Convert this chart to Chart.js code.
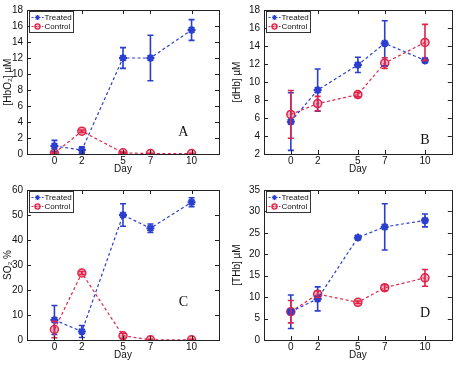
<!DOCTYPE html>
<html>
<head>
<meta charset="utf-8">
<script src="https://cdn.jsdelivr.net/npm/chart.js@4/dist/chart.umd.min.js"></script>
<style>
    body { margin: 0; background: #ffffff; }
    #wrap { position: relative; width: 458px; height: 365px; background: #ffffff; }
    canvas { position: absolute; }
</style>
</head>
<body>
<div id="wrap">
    <canvas id="chartA" width="229" height="180" style="left:0px;top:0px;"></canvas>
    <canvas id="chartB" width="229" height="180" style="left:229px;top:0px;"></canvas>
    <canvas id="chartC" width="229" height="185" style="left:0px;top:180px;"></canvas>
    <canvas id="chartD" width="229" height="185" style="left:229px;top:180px;"></canvas>
</div>
<script>
// days on the x axis
const days = [0, 2, 5, 7, 10];
const dayTicks = [0, 2, 5, 7, 10];

// panel A : [HbO2]
const hbo2Treated = [1.0, 0.5, 12.0, 12.0, 15.5];
const hbo2TreatedErr = [0.7, 0.4, 1.3, 2.85, 1.3];
const hbo2Control = [0.1, 2.85, 0.15, 0.05, 0.05];
const hbo2ControlErr = [0.1, 0.15, 0.1, 0.05, 0.05];

// panel B : [dHb]
const dhbTreated = [5.6, 9.1, 11.9, 14.3, 12.4];
const dhbTreatedErr = [3.2, 2.35, 0.85, 2.5, 0.2];
const dhbControl = [6.4, 7.6, 8.6, 12.1, 14.4];
const dhbControlErr = [2.65, 0.8, 0.25, 0.6, 2.0];

// panel C : SO2
const so2Treated = [8.0, 3.4, 50.0, 44.7, 55.1];
const so2TreatedErr = [5.8, 2.4, 4.5, 1.7, 1.8];
const so2Control = [4.2, 26.8, 1.7, 0.1, 0.1];
const so2ControlErr = [3.3, 0.6, 1.0, 0.2, 0.2];

// panel D : [THb]
const thbTreated = [6.6, 9.6, 23.9, 26.4, 27.9];
const thbTreatedErr = [3.9, 2.8, 0.4, 5.4, 1.5];
const thbControl = [6.6, 10.7, 8.8, 12.2, 14.5];
const thbControlErr = [2.6, 0.8, 0.3, 0.7, 1.95];

const blue = 'rgb(43, 63, 207)';
const red = 'rgb(224, 36, 74)';
const fontFamily = '"Liberation Sans", Arial, sans-serif';

// error bars, drawn through the scales
const errorBarPlugin =
{
    id: 'errorBars',
    afterDatasetsDraw(chart)
    {
        const ctx = chart.ctx;
        const yScale = chart.scales.y;
        chart.data.datasets.forEach((dataset, i) =>
        {
            const meta = chart.getDatasetMeta(i);
            ctx.save();
            ctx.strokeStyle = dataset.borderColor;
            ctx.lineWidth = 1.6;
            meta.data.forEach((point, j) =>
            {
                const value = dataset.data[j].y;
                const err = dataset.errors[j];
                const top = yScale.getPixelForValue(value + err);
                const bottom = yScale.getPixelForValue(Math.max(value - err, yScale.min));
                ctx.beginPath();
                ctx.moveTo(point.x, top);
                ctx.lineTo(point.x, bottom);
                ctx.moveTo(point.x - 3, top);
                ctx.lineTo(point.x + 3, top);
                if(value - err >= yScale.min)
                {
                    ctx.moveTo(point.x - 3, bottom);
                    ctx.lineTo(point.x + 3, bottom);
                }
                ctx.stroke();
            });
            ctx.restore();
        });
    }
};

// box round the plot with inward ticks on every side, panel letter and legend
const framePlugin =
{
    id: 'frame',
    afterDraw(chart, args, opts)
    {
        const ctx = chart.ctx;
        const area = chart.chartArea;
        const xScale = chart.scales.x;
        const yScale = chart.scales.y;
        ctx.save();
        ctx.strokeStyle = '#222';
        ctx.lineWidth = 1;
        ctx.strokeRect(Math.round(area.left) + 0.5, Math.round(area.top) + 0.5,
            Math.round(area.right - area.left), Math.round(area.bottom - area.top));
        ctx.beginPath();
        xScale.ticks.forEach((tick) =>
        {
            const px = Math.round(xScale.getPixelForValue(tick.value)) + 0.5;
            ctx.moveTo(px, area.bottom);
            ctx.lineTo(px, area.bottom - 4);
            ctx.moveTo(px, area.top);
            ctx.lineTo(px, area.top + 4);
        });
        yScale.ticks.forEach((tick) =>
        {
            const py = Math.round(yScale.getPixelForValue(tick.value)) + 0.5;
            ctx.moveTo(area.left, py);
            ctx.lineTo(area.left + 4, py);
            ctx.moveTo(area.right, py);
            ctx.lineTo(area.right - 4, py);
        });
        ctx.stroke();

        // panel letter
        ctx.fillStyle = '#111';
        ctx.font = '14px "Liberation Serif", "Times New Roman", serif';
        ctx.textAlign = 'center';
        ctx.textBaseline = 'middle';
        ctx.fillText(opts.letter, xScale.getPixelForValue(opts.letterX), yScale.getPixelForValue(opts.letterY));

        // legend box
        const boxLeft = Math.round(area.left) + 2.5;
        const boxTop = Math.round(area.top) + 1.5;
        ctx.fillStyle = '#ffffff';
        ctx.fillRect(boxLeft, boxTop, 44, 21);
        ctx.strokeStyle = '#333';
        ctx.strokeRect(boxLeft, boxTop, 44, 21);
        ctx.font = '8px ' + fontFamily;
        ctx.textAlign = 'left';
        chart.data.datasets.forEach((dataset, i) =>
        {
            const rowY = boxTop + 6 + i * 9;
            ctx.save();
            ctx.strokeStyle = dataset.borderColor;
            ctx.lineWidth = 1.2;
            ctx.setLineDash([2, 1.5]);
            ctx.beginPath();
            ctx.moveTo(boxLeft + 2, rowY);
            ctx.lineTo(boxLeft + 14, rowY);
            ctx.stroke();
            ctx.setLineDash([]);
            ctx.fillStyle = dataset.backgroundColor;
            ctx.lineWidth = 1.2;
            Chart.helpers.drawPoint(ctx, {pointStyle: dataset.pointStyle, rotation: 0, radius: 2.6, borderWidth: 1.2}, boxLeft + 8, rowY);
            ctx.restore();
            ctx.fillStyle = '#111';
            ctx.fillText(dataset.label, boxLeft + 15, rowY + 0.5);
        });
        ctx.restore();
    }
};

function toPoints(values)
{
    return values.map((v, i) => ({x: days[i], y: v}));
}

function makePanel(canvasId, panel)
{
    const context = document.getElementById(canvasId);
    const configObject =
    {
        type: 'line',
        data:
        {
            datasets:
            [
                {
                    label: 'Treated',
                    data: toPoints(panel.treated),
                    errors: panel.treatedErr,
                    borderColor: blue,
                    backgroundColor: blue,
                    borderWidth: 1.2,
                    borderDash: [3, 2.5],
                    pointStyle: 'star',
                    pointRadius: 4,
                    pointBorderWidth: 2.2,
                    pointBorderColor: blue,
                    pointBackgroundColor: blue,
                    tension: 0,
                },
                {
                    label: 'Control',
                    data: toPoints(panel.control),
                    errors: panel.controlErr,
                    borderColor: red,
                    backgroundColor: 'rgba(224, 36, 74, 0.35)',
                    borderWidth: 1.2,
                    borderDash: [3, 2.5],
                    pointStyle: 'circle',
                    pointRadius: 4,
                    pointBorderWidth: 1.5,
                    pointBorderColor: red,
                    pointBackgroundColor: 'rgba(224, 36, 74, 0.35)',
                    tension: 0,
                }
            ],
        },
        options:
        {
            responsive: false,
            animation: false,
            devicePixelRatio: 1,
            layout:
            {
                padding: {left: 0, top: panel.padTop, right: panel.padRight, bottom: 0},
            },
            plugins:
            {
                legend: {display: false},
                tooltip: {enabled: false},
                frame: {letter: panel.letter, letterX: panel.letterX, letterY: panel.letterY},
            },
            scales:
            {
                x:
                {
                    type: 'linear',
                    min: -2,
                    max: 12,
                    afterBuildTicks: (scale) =>
                    {
                        scale.ticks = dayTicks.map((d) => ({value: d}));
                    },
                    afterFit: (scale) =>
                    {
                        scale.height = panel.xHeight;
                    },
                    grid: {display: false, drawTicks: false},
                    border: {display: false},
                    ticks:
                    {
                        padding: 1,
                        color: '#111',
                        font: {family: fontFamily, size: 10},
                        maxRotation: 0,
                    },
                    title:
                    {
                        display: true,
                        text: 'Day',
                        color: '#111',
                        font: {family: fontFamily, size: 10},
                        padding: {top: 0, bottom: panel.titlePad},
                    },
                },
                y:
                {
                    min: panel.yMin,
                    max: panel.yMax,
                    afterFit: (scale) =>
                    {
                        scale.width = panel.yWidth;
                    },
                    grid: {display: false, drawTicks: false},
                    border: {display: false},
                    ticks:
                    {
                        stepSize: panel.yStep,
                        padding: 4,
                        color: '#111',
                        font: {family: fontFamily, size: 10},
                    },
                    title:
                    {
                        display: true,
                        text: panel.yTitle,
                        color: '#111',
                        font: {family: fontFamily, size: 10},
                        padding: {top: 2, bottom: 0},
                    },
                },
            },
        },
        plugins: [errorBarPlugin, framePlugin],
    };
    return new Chart(context, configObject);
}

makePanel('chartA',
{
    treated: hbo2Treated, treatedErr: hbo2TreatedErr,
    control: hbo2Control, controlErr: hbo2ControlErr,
    yMin: 0, yMax: 18, yStep: 2, yTitle: '[HbO\u2082] \u00b5M',
    letter: 'A', letterX: 9.4, letterY: 2.7,
    padTop: 3, padRight: 10, yWidth: 27, xHeight: 26, titlePad: 5,
});

makePanel('chartB',
{
    treated: dhbTreated, treatedErr: dhbTreatedErr,
    control: dhbControl, controlErr: dhbControlErr,
    yMin: 2, yMax: 18, yStep: 2, yTitle: '[dHb] \u00b5M',
    letter: 'B', letterX: 10, letterY: 3.5,
    padTop: 3, padRight: 1, yWidth: 35, xHeight: 26, titlePad: 5,
});

makePanel('chartC',
{
    treated: so2Treated, treatedErr: so2TreatedErr,
    control: so2Control, controlErr: so2ControlErr,
    yMin: 0, yMax: 60, yStep: 10, yTitle: 'SO\u2082 %',
    letter: 'C', letterX: 9.4, letterY: 15,
    padTop: 8, padRight: 10, yWidth: 27, xHeight: 25, titlePad: 4,
});

makePanel('chartD',
{
    treated: thbTreated, treatedErr: thbTreatedErr,
    control: thbControl, controlErr: thbControlErr,
    yMin: 0, yMax: 35, yStep: 5, yTitle: '[THb] \u00b5M',
    letter: 'D', letterX: 10, letterY: 6.3,
    padTop: 8, padRight: 1, yWidth: 35, xHeight: 25, titlePad: 4,
});
</script>
</body>
</html>
